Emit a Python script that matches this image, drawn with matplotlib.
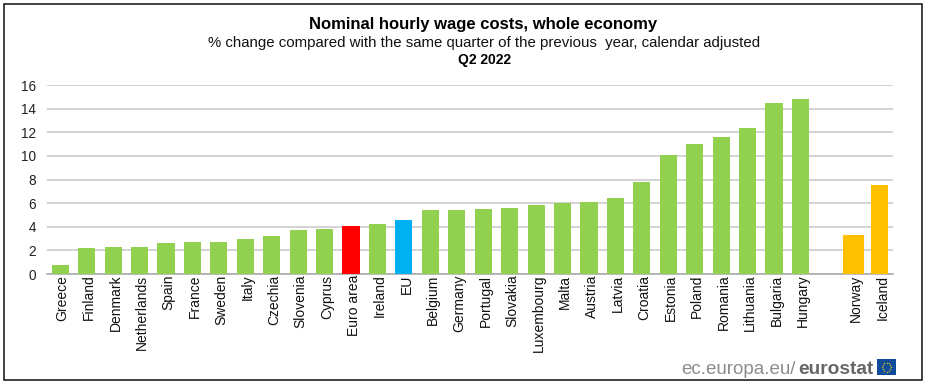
import matplotlib
matplotlib.use("Agg")
import matplotlib.pyplot as plt
from matplotlib.patches import Rectangle
from matplotlib.transforms import ScaledTranslation
import numpy as np

plt.rcParams['font.family'] = ['Liberation Sans', 'DejaVu Sans']

W, H = 927, 388

countries = ["Greece", "Finland", "Denmark", "Netherlands", "Spain", "France", "Sweden",
             "Italy", "Czechia", "Slovenia", "Cyprus", "Euro area", "Ireland", "EU",
             "Belgium", "Germany", "Portugal", "Slovakia", "Luxembourg", "Malta", "Austria",
             "Latvia", "Croatia", "Estonia", "Poland", "Romania", "Lithuania", "Bulgaria",
             "Hungary", "", "Norway", "Iceland"]
values = [0.8, 2.2, 2.3, 2.3, 2.6, 2.7, 2.7,
          3.0, 3.2, 3.7, 3.8, 4.1, 4.2, 4.6,
          5.4, 5.4, 5.5, 5.6, 5.8, 6.0, 6.1,
          6.4, 7.8, 10.1, 11.0, 11.6, 12.4, 14.5,
          14.8, 0, 3.3, 7.5]
yticks = [0, 2, 4, 6, 8, 10, 12, 14, 16]

GREEN = "#92d050"
colors = [GREEN] * len(values)
colors[countries.index("Euro area")] = "#ff0000"
colors[countries.index("EU")] = "#00b0f0"
colors[countries.index("Norway")] = "#ffc000"
colors[countries.index("Iceland")] = "#ffc000"

# Norway is a bit wider than the others in the original
widths = [0.65] * len(values)
widths[countries.index("Norway")] = 0.8

fig = plt.figure(figsize=(W / 100, H / 100), dpi=100, facecolor="white")
ax = fig.add_axes([47 / W, 1 - 274 / H, 846 / W, 189 / H])

x = np.arange(len(values))
ax.bar(x, values, width=widths, color=colors, zorder=3)

ax.set_xlim(-0.5, len(values) - 0.5)
ax.set_ylim(0, 16)
ax.set_yticks(yticks)
ax.set_xticks(x)
ax.set_xticklabels(countries, rotation=90, fontsize=10, color="#111111")
ax.tick_params(axis="x", length=0, pad=0.5)
ax.tick_params(axis="y", length=0, pad=8, labelsize=9.8, labelcolor="#222222")
# rotated labels sit a little right of the bar centres
shift = ScaledTranslation(2.5 / 100, 0, fig.dpi_scale_trans)
for lab in ax.get_xticklabels():
    lab.set_transform(lab.get_transform() + shift)
ax.grid(axis="y", color="#c8c8c8", linewidth=1.1, zorder=0)
ax.set_axisbelow(True)
for s in ["top", "right", "left"]:
    ax.spines[s].set_visible(False)
ax.spines["bottom"].set_color("#a6a6a6")
ax.spines["bottom"].set_linewidth(1.1)

# titles
fig.text(483.5 / W, 1 - 25 / H, "Nominal hourly wage costs, whole economy", ha="center", va="center",
         fontsize=12, fontweight="bold", color="black")
fig.text(484.5 / W, 1 - 43 / H, "% change compared with the same quarter of the previous  year, calendar adjusted",
         ha="center", va="center", fontsize=10.85, color="#111111")
fig.text(484 / W, 1 - 60 / H, "Q2 2022", ha="center", va="center", fontsize=10, fontweight="bold", color="black")

# outer frame
fig.add_artist(Rectangle((3.5 / W, 1 - 379.5 / H), 918.5 / W, 376 / H, transform=fig.transFigure,
                         fill=False, edgecolor="#222222", linewidth=1.2))

# eurostat mark
fig.text(681 / W, 1 - 374 / H, "ec.europa.eu/", ha="left", va="baseline", fontsize=13.5, color="#8c8c8c")
fig.text(798 / W, 1 - 374 / H, "eurostat", ha="left", va="baseline", fontsize=13.8, fontweight="bold", color="#666666")
fig.add_artist(Rectangle((877 / W, 1 - 375 / H), 19 / W, 16 / H, transform=fig.transFigure,
                         facecolor="#0f4c9c", edgecolor="none"))
stars = np.deg2rad(np.arange(0, 360, 30))
fig.add_artist(plt.Line2D((886.5 + 4.5 * np.cos(stars)) / W, (1 - 367 / H) + 4.5 * np.sin(stars) / H,
                          transform=fig.transFigure, linestyle="none", marker="o", markersize=1.1,
                          color="#c9b62a", markeredgewidth=0))

fig.savefig("out.png", dpi=100)
